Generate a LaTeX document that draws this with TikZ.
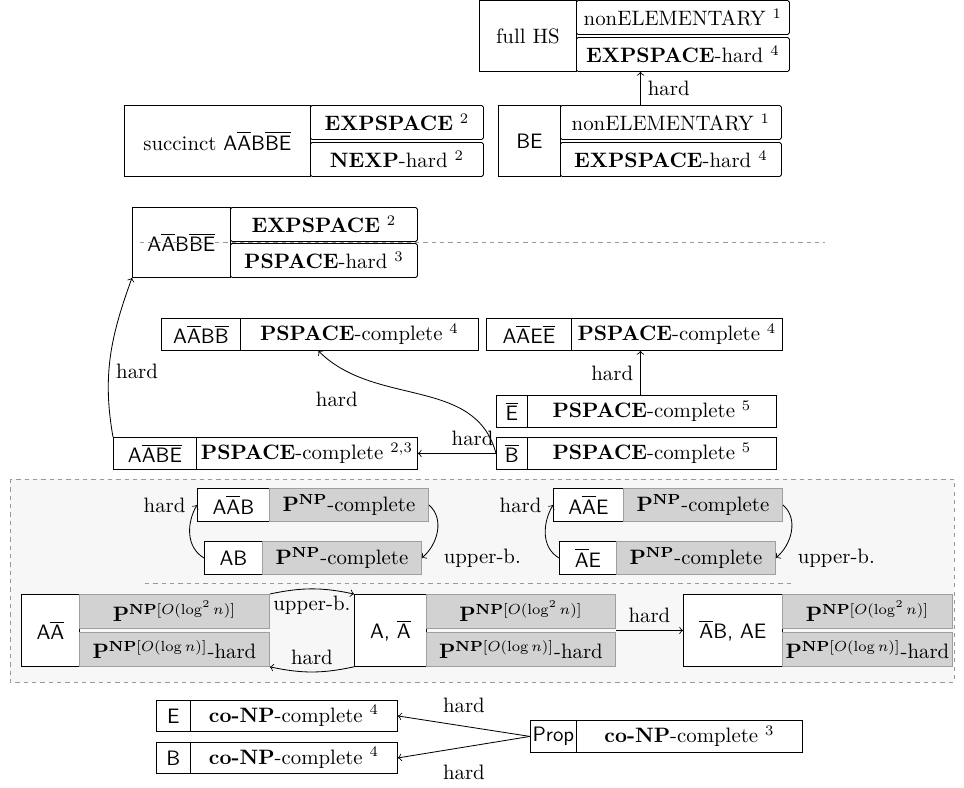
\documentclass[tikz,border=0pt]{standalone}
\usepackage{amsmath}
\usepackage{tikz}

\newcommand{\ovl}[1]{$\overline{\mbox{#1}}$}

\tikzset{
  wh/.style 2 args={minimum width=#1*0.48pt, minimum height=#2*0.48pt},
  lcell/.style={draw, fill=white, inner sep=0pt, anchor=north west, font=\sffamily},
  rcell/.style={draw, inner sep=0pt, anchor=north west},
  splitcell/.style={rcell, rounded corners=0.8pt},
  npcell/.style={draw=gray!75, fill=gray!35, inner sep=0pt, anchor=north west},
  sepline/.style={gray!80, dash pattern=on 2pt off 2pt},
}

\begin{document}
\begin{tikzpicture}[x=0.48pt, y=-0.48pt]
\useasboundingbox (0,0) rectangle (964,787);
\draw [sepline, fill=black!3] (10,479) rectangle (954,682);
\draw [sepline] (145,583) -- (795,583);

% HS and BE
\node [lcell, wh={97}{71}, font=\rmfamily] (hsl) at (479,0) {full HS};
\node [splitcell, wh={213}{34}] (hsu) at (576,0) {nonELEMENTARY $^1$};
\node [splitcell, wh={213}{34}] (hsd) at (576,37) {\textbf{EXPSPACE}-hard $^4$};
\node [lcell, wh={186}{71}, font=\rmfamily] (scl) at (124,105) {succinct \textsf{A\ovl{A}B\ovl{B}\ovl{E}}};
\node [splitcell, wh={173}{34}] (scu) at (310,105) {\textbf{EXPSPACE} $^2$};
\node [splitcell, wh={173}{34}] (scd) at (310,142) {\textbf{NEXP}-hard $^2$};
\node [lcell, wh={62}{71}] (bel) at (498,105) {BE};
\node [splitcell, wh={221}{34}] (beu) at (560,105) {nonELEMENTARY $^1$};
\node [splitcell, wh={221}{34}] (bed) at (560,142) {\textbf{EXPSPACE}-hard $^4$};

% EXPSPACE / PSPACE
\node [lcell, wh={98}{70}] (aabbel) at (132,207) {A\ovl{A}B\ovl{B}\ovl{E}};
\node [splitcell, wh={187}{34}] (aabbeu) at (230,207) {\textbf{EXPSPACE} $^2$};
\node [splitcell, wh={187}{34}] (aabbed) at (230,243) {\textbf{PSPACE}-hard $^3$};
\draw [sepline] (140,242) -- (825,242);
\node [lcell, wh={79}{32}] (aabbl) at (161,318) {A\ovl{A}B\ovl{B}};
\node [rcell, wh={238}{32}] (aabbr) at (240,318) {\textbf{PSPACE}-complete $^4$};
\node [lcell, wh={85}{32}] (aaeel) at (486,318) {A\ovl{A}E\ovl{E}};
\node [rcell, wh={211}{32}] (aaeer) at (571,318) {\textbf{PSPACE}-complete $^4$};
\node [lcell, wh={31}{32}] (ebl) at (496,395) {\ovl{E}};
\node [rcell, wh={249}{32}] (ebr) at (527,395) {\textbf{PSPACE}-complete $^5$};
\node [lcell, wh={31}{32}] (bbl) at (496,437) {\ovl{B}};
\node [rcell, wh={249}{32}] (bbr) at (527,437) {\textbf{PSPACE}-complete $^5$};
\node [lcell, wh={83}{32}] (aabel) at (113,437) {A\ovl{A}\ovl{B}\ovl{E}};
\node [rcell, wh={221}{32}] (aaber) at (196,437) {\textbf{PSPACE}-complete $^{2,3}$};

% P^NP region
\node [lcell, wh={72}{33}] (aabl) at (197,488) {A\ovl{A}B};
\node [npcell, wh={159}{33}] (aabr) at (269,488) {$\mathbf{P^{NP}}$-complete};
\node [lcell, wh={58}{33}] (abl) at (204,541) {AB};
\node [npcell, wh={159}{33}] (abr) at (262,541) {$\mathbf{P^{NP}}$-complete};
\node [lcell, wh={70}{33}] (aael) at (553,488) {A\ovl{A}E};
\node [npcell, wh={159}{33}] (aaer) at (623,488) {$\mathbf{P^{NP}}$-complete};
\node [lcell, wh={57}{33}] (ael) at (559,541) {\ovl{A}E};
\node [npcell, wh={159}{33}] (aer) at (616,541) {$\mathbf{P^{NP}}$-complete};
\node [lcell, wh={58}{72}] (aal) at (21,594) {A\ovl{A}};
\node [npcell, wh={190}{34}] (aau) at (79,594) {$\mathbf{P}^{\mathbf{NP}[O(\log^2 n)]}$};
\node [npcell, wh={190}{34}] (aad) at (79,632) {$\mathbf{P}^{\mathbf{NP}[O(\log n)]}$-hard};
\node [lcell, wh={72}{72}] (a2l) at (354,594) {A, \ovl{A}};
\node [npcell, wh={189}{34}] (a2u) at (426,594) {$\mathbf{P}^{\mathbf{NP}[O(\log^2 n)]}$};
\node [npcell, wh={189}{34}] (a2d) at (426,632) {$\mathbf{P}^{\mathbf{NP}[O(\log n)]}$-hard};
\node [lcell, wh={99}{72}] (bael) at (683,594) {\ovl{A}B, AE};
\node [npcell, wh={170}{34}] (baeu) at (782,594) {$\mathbf{P}^{\mathbf{NP}[O(\log^2 n)]}$};
\node [npcell, wh={170}{34}] (baed) at (782,632) {$\mathbf{P}^{\mathbf{NP}[O(\log n)]}$-hard};

% co-NP
\node [lcell, wh={34}{31}] (el) at (156,700) {E};
\node [rcell, wh={207}{31}] (er) at (190,700) {\textbf{co-NP}-complete $^4$};
\node [lcell, wh={34}{31}] (bl) at (156,742) {B};
\node [rcell, wh={207}{31}] (br) at (190,742) {\textbf{co-NP}-complete $^4$};
\node [lcell, wh={46}{32}] (propl) at (530,720) {Prop};
\node [rcell, wh={226}{32}] (propr) at (576,720) {\textbf{co-NP}-complete $^3$};

\draw [->] ([xshift=-14.6pt]beu.north) -- ([xshift=-14.6pt]beu.north |- hsd.south) node [midway, right] {hard};
\draw [->] ([xshift=-5.5pt]ebr.north) -- ([xshift=-5.5pt]ebr.north |- aaeer.south) node [midway, left] {hard};
\draw [->] (bbl.west) -- (aaber.east) node [pos=0.3, above] {hard};
\draw [->] (bbl.west) to [out=105, in=-45] node [pos=0.74, below left=2pt] {hard} ([xshift=-19.7pt]aabbr.south);
\draw [->] (aabel.north west) to [out=100, in=-110] node [pos=0.4, right] {hard} (aabbel.south west);
\draw [->] (abl.west) to [out=150, in=-120] node [at end, left=2pt] {hard} (aabl.west);
\draw [->] (aabr.east) to [out=-40, in=40] node [at end, right=7pt] {upper-b.} (abr.east);
\draw [->] (ael.west) to [out=150, in=-120] node [at end, left=2pt] {hard} (aael.west);
\draw [->] (aaer.east) to [out=-40, in=40] node [at end, right=7pt] {upper-b.} (aer.east);
\draw [->] (aau.north east) to [bend left=12] node [midway, below] {upper-b.} (a2l.north west);
\draw [->] (a2l.south west) to [bend left=12] node [midway, above] {hard} (aad.south east);
\draw [->] (bael.west -| a2u.east) -- (bael.west) node [midway, above] {hard};
\draw [->] (propl.west) -- (er.east) node [midway, above=3pt] {hard};
\draw [->] (propl.west) -- (br.east) node [midway, below=5pt] {hard};
\end{tikzpicture}
\end{document}
